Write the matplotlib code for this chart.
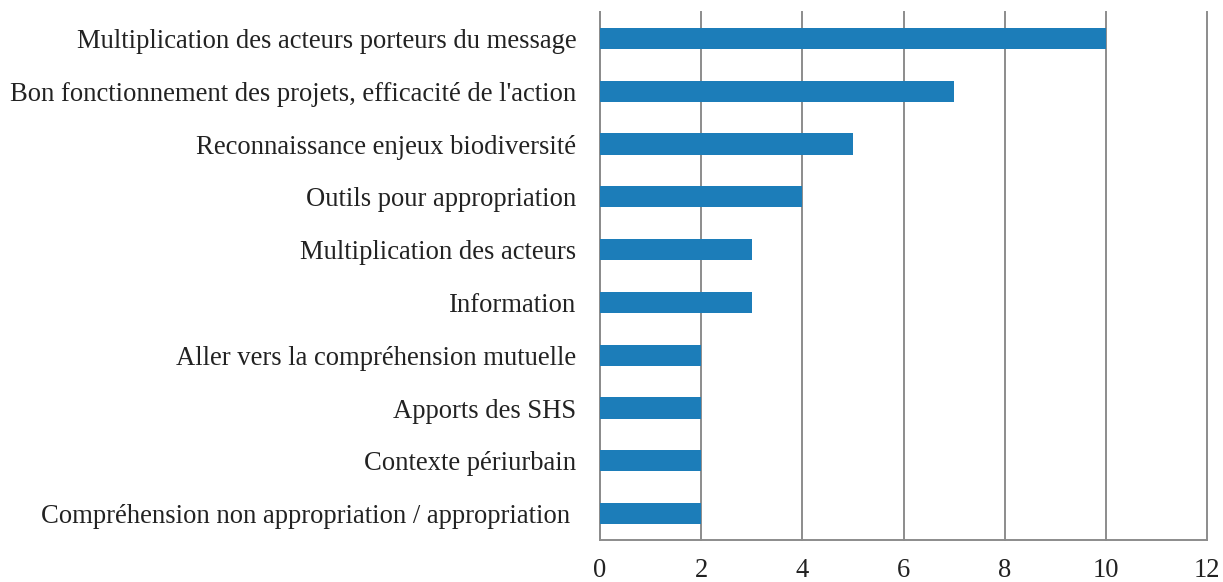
import matplotlib.pyplot as plt

plt.rcParams['font.family'] = ['Liberation Serif', 'DejaVu Serif']

categories = [
    "Multiplication des acteurs porteurs du message",
    "Bon fonctionnement des projets, efficacité de l'action",
    "Reconnaissance enjeux biodiversité",
    "Outils pour appropriation",
    "Multiplication des acteurs",
    "Information",
    "Aller vers la compréhension mutuelle",
    "Apports des SHS",
    "Contexte périurbain",
    "Compréhension non appropriation / appropriation ",
]
counts = [10, 7, 5, 4, 3, 3, 2, 2, 2, 2]
xticks = [0, 2, 4, 6, 8, 10, 12]

fig = plt.figure(figsize=(12.23, 5.82), dpi=100)
ax = fig.add_axes([600 / 1223, 1 - 540 / 582, 607 / 1223, 528 / 582])

grid_col = "#8c8c8c"
ax.barh(range(len(categories)), counts, height=0.4, color="#1c7db9", zorder=3)

ax.set_xlim(0, 12)
ax.set_ylim(len(categories) - 0.5, -0.5)
ax.set_xticks(xticks)
ax.set_yticks(range(len(categories)))
ax.set_yticklabels(categories)
ax.xaxis.grid(True, color=grid_col, linewidth=1.4, zorder=0)
# keep the gridline at 12 from being clipped at the axes edge
for gl in ax.get_xgridlines():
    gl.set_clip_on(False)

for side in ["top", "right"]:
    ax.spines[side].set_visible(False)
ax.spines["left"].set_color(grid_col)
ax.spines["left"].set_linewidth(1.4)
ax.spines["bottom"].set_color(grid_col)
ax.spines["bottom"].set_linewidth(1.4)

ax.tick_params(axis="both", length=0, labelsize=19.2, colors="#222222")
ax.tick_params(axis="x", pad=13)
ax.tick_params(axis="y", pad=17)

fig.savefig("out.png", dpi=100)
